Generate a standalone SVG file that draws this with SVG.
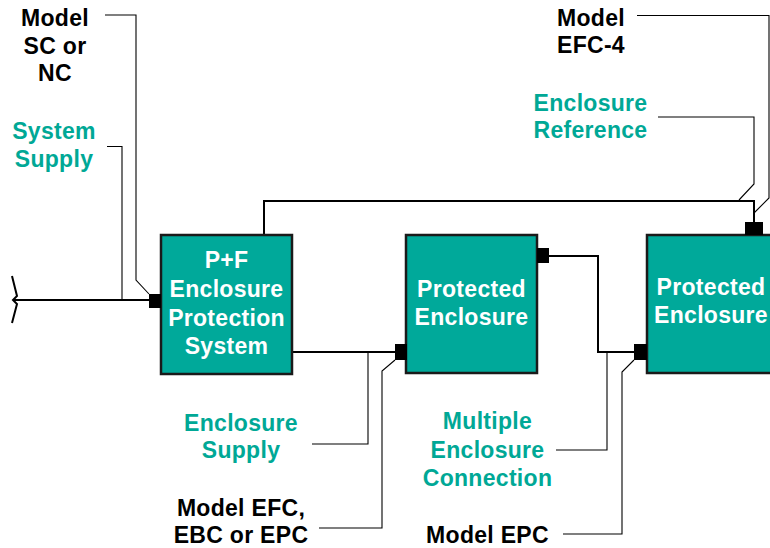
<svg xmlns="http://www.w3.org/2000/svg" width="770" height="548" viewBox="0 0 770 548">
<style>
.box{fill:#00A99A;stroke:#1a1a1a;stroke-width:2.5}
.port{fill:#000}
.wire{fill:none;stroke:#000;stroke-width:2}
.lead{fill:none;stroke:#000;stroke-width:1.1}
text{font-family:"Liberation Sans",Arial,sans-serif;font-weight:bold;font-size:23px;letter-spacing:0.3px;text-anchor:middle}
.w{fill:#fff}
.k{fill:#000}
.g{fill:#00A896}
</style>
<rect width="770" height="548" fill="#fff"/>
<g id="connectors">
<path class="wire" d="M13,300 H149"/>
<path class="wire" d="M12,276 L17,296 L13,300 L17,304 L12,323"/>
<path class="wire" d="M264,235 V201 H754 V222"/>
<path class="wire" d="M292,352 H395"/>
<path class="wire" d="M549,256 H598 V352 H634"/>
<path class="lead" d="M105,15 H136 V280 L149,294"/>
<path class="lead" d="M107,146.5 H122 V300"/>
<path class="lead" d="M637,15.5 H769 V198 L754,213"/>
<path class="lead" d="M658,117 H754 V184 L739,200"/>
<path class="lead" d="M312,444 H368 V352"/>
<path class="lead" d="M319,528 H382 V371 L395,360"/>
<path class="lead" d="M556,450 H607 V352"/>
<path class="lead" d="M563,534 H622 V372 L634,360"/>
</g>
<g id="node-pf">
<rect class="box" x="161" y="235" width="131" height="139"/>
<text class="w" x="226.5" y="268">P+F</text>
<text class="w" x="226.5" y="297">Enclosure</text>
<text class="w" x="226.5" y="326">Protection</text>
<text class="w" x="226.5" y="354">System</text>
<rect class="port" x="149" y="294" width="12" height="14"/>
</g>
<g id="node-protected1">
<rect class="box" x="406" y="235" width="131" height="138"/>
<text class="w" x="471.5" y="297">Protected</text>
<text class="w" x="471.5" y="325">Enclosure</text>
<rect class="port" x="395" y="344" width="12" height="16"/>
<rect class="port" x="537" y="248" width="12" height="15"/>
</g>
<g id="node-protected2">
<rect class="box" x="647" y="235" width="130" height="138"/>
<text class="w" x="711" y="295">Protected</text>
<text class="w" x="711" y="323">Enclosure</text>
<rect class="port" x="634" y="344" width="13" height="16"/>
<rect class="port" x="745" y="222" width="18" height="13"/>
</g>
<g id="labels">
<text class="k" x="55" y="26">Model</text>
<text class="k" x="55" y="54">SC or</text>
<text class="k" x="55" y="81">NC</text>
<text class="g" x="54" y="139">System</text>
<text class="g" x="54" y="167">Supply</text>
<text class="k" x="591" y="26">Model</text>
<text class="k" x="591" y="53">EFC-4</text>
<text class="g" x="590.5" y="111">Enclosure</text>
<text class="g" x="590.5" y="138">Reference</text>
<text class="g" x="241" y="431">Enclosure</text>
<text class="g" x="241" y="458">Supply</text>
<text class="k" x="241" y="516">Model EFC,</text>
<text class="k" x="241" y="543">EBC or EPC</text>
<text class="g" x="487.5" y="429">Multiple</text>
<text class="g" x="487.5" y="458">Enclosure</text>
<text class="g" x="487.5" y="486">Connection</text>
<text class="k" x="487.5" y="543">Model EPC</text>
</g>
</svg>
